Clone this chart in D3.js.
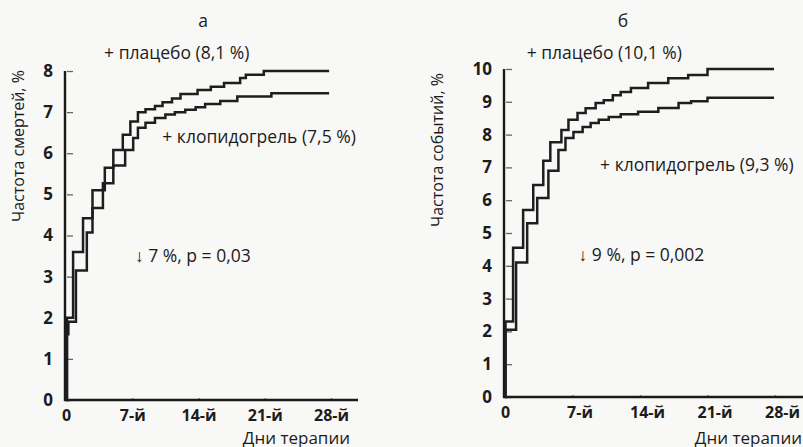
<!DOCTYPE html>
<html><head><meta charset="utf-8">
<script src="https://cdn.jsdelivr.net/npm/d3@7"></script>
<style>
html,body{margin:0;padding:0;background:#f8f8f7;}
svg{display:block;}
text{font-family:"Open Sans","Noto Sans",sans-serif;fill:#1c1c1c;}
</style></head>
<body>
<svg id="chart" width="803" height="447"></svg>
<script>
// ---- data ----
const xTickValues = [0, 7, 14, 21, 28];
const xTickLabels = ["0", "7-й", "14-й", "21-й", "28-й"];
const yTicksA = [0, 1, 2, 3, 4, 5, 6, 7, 8];
const yTicksB = [0, 1, 2, 3, 4, 5, 6, 7, 8, 9, 10];

// Panel а: mortality, %
const daysA_placebo = [0, 0.1, 0.75, 1.8, 2.8, 4.1, 5.0, 6.0, 6.8, 7.6, 8.4, 9.4, 10.2, 11.2, 12.1, 13.9, 15.3, 16.7, 18.4, 19.0, 20.9, 27.8];
const valsA_placebo = [0, 2.0, 3.6, 4.42, 5.1, 5.65, 6.08, 6.45, 6.77, 7.0, 7.07, 7.15, 7.24, 7.33, 7.44, 7.54, 7.62, 7.71, 7.83, 7.91, 8.0, 8.0];
const daysA_clopi = [0, 0.1, 0.25, 1.05, 2.2, 2.8, 3.9, 5.0, 6.25, 7.1, 7.6, 8.4, 9.4, 10.5, 11.5, 12.6, 13.7, 14.7, 16.3, 18.1, 21.7, 27.8];
const valsA_clopi = [0, 1.6, 1.9, 3.15, 4.07, 4.67, 5.27, 5.7, 6.08, 6.37, 6.62, 6.74, 6.86, 6.94, 7.0, 7.06, 7.12, 7.2, 7.27, 7.38, 7.46, 7.46];

// Panel б: event rate, %
const daysB_placebo = [0, 0.05, 0.84, 1.88, 2.93, 3.97, 4.7, 5.85, 6.58, 7.52, 8.36, 9.4, 10.24, 11.18, 12.0, 13.06, 14.84, 16.93, 19.0, 21.0, 27.9];
const valsB_placebo = [0, 2.3, 4.55, 5.7, 6.46, 7.2, 7.77, 8.14, 8.45, 8.66, 8.8, 8.96, 9.05, 9.2, 9.3, 9.42, 9.57, 9.72, 9.82, 10.0, 10.0];
const daysB_clopi = [0, 0.05, 1.15, 2.3, 3.34, 4.5, 5.54, 6.27, 7.1, 8.05, 8.88, 9.72, 10.76, 12.0, 13.8, 15.9, 18.0, 19.3, 21.0, 27.9];
const valsB_clopi = [0, 2.05, 4.1, 5.3, 6.07, 6.9, 7.53, 7.9, 8.08, 8.23, 8.35, 8.45, 8.54, 8.62, 8.7, 8.81, 8.96, 9.02, 9.12, 9.12];

const panels = [
  {
    title: "а", yTitle: "Частота смертей, %", yMax: 8, yTicks: yTicksA,
    series: [[daysA_placebo, valsA_placebo], [daysA_clopi, valsA_clopi]],
    notes: [
      {t: "+ плацебо (8,1 %)", day: 11.7, v: 8.0, dy: -18},
      {t: "+ клопидогрель (7,5 %)", day: 20.4, v: 6.4, dy: 0},
      {t: "↓ 7 %, p = 0,03", day: 13.4, v: 3.5, dy: 0}
    ],
    layout: {x0: 66, x28: 331, xEnd: 358, yTop: 71, yBot: 400, titleX: 203, yTitleX: 18, yTitleY: 146, labelX: 350, tickDx: 0}
  },
  {
    title: "б", yTitle: "Частота событий, %", yMax: 10, yTicks: yTicksB,
    series: [[daysB_placebo, valsB_placebo], [daysB_clopi, valsB_clopi]],
    notes: [
      {t: "+ плацебо (10,1 %)", day: 10.3, v: 10.0, dy: -16},
      {t: "+ клопидогрель (9,3 %)", day: 19.9, v: 7.07, dy: 0},
      {t: "↓ 9 %, p = 0,002", day: 14.15, v: 4.33, dy: 0}
    ],
    layout: {x0: 505, x28: 775, xEnd: 803, yTop: 69, yBot: 397, titleX: 623, yTitleX: 437, yTitleY: 150, labelX: 802, tickDx: 7}
  }
];

const FS = 17.5;
const svg = d3.select("#chart");

panels.forEach((p, i) => {
  const L = p.layout;
  const x = d3.scaleLinear().domain([0, 28]).range([L.x0, L.x28]);
  const y = d3.scaleLinear().domain([0, p.yMax]).range([L.yBot, L.yTop]);
  const g = svg.append("g");

  // y axis
  const yAxis = d3.axisLeft(y).tickValues(p.yTicks).tickSize(-8).tickPadding(12).tickFormat(d3.format("d"));
  const ya = g.append("g").attr("transform", `translate(${L.x0 - 1},0)`).call(yAxis);
  ya.select(".domain").remove();
  ya.selectAll(".tick line").attr("stroke", "#666").attr("stroke-width", 1.3).attr("x1", 2);
  ya.selectAll(".tick text").attr("font-size", 17).attr("font-weight", "bold").attr("fill", "#262626")
    .style("font-family", '"Open Sans",sans-serif');
  g.append("line").attr("x1", L.x0 - 1).attr("x2", L.x0 - 1).attr("y1", L.yTop).attr("y2", L.yBot + 1)
    .attr("stroke", "#1a1a1a").attr("stroke-width", 2.4);

  // x axis
  const xAxis = d3.axisBottom(x).tickValues(xTickValues).tickSize(-2).tickPadding(10)
    .tickFormat((d, k) => xTickLabels[k]);
  const xa = g.append("g").attr("transform", `translate(0,${L.yBot})`).call(xAxis);
  xa.select(".domain").remove();
  xa.selectAll(".tick line").attr("stroke", "#888").attr("stroke-width", 1.5);
  xa.selectAll(".tick text").attr("font-size", 16).attr("font-weight", "bold").attr("fill", "#262626")
    .attr("dx", d => d === 0 ? 0 : L.tickDx)
    .style("font-family", '"Open Sans",sans-serif');
  g.append("line").attr("x1", L.x0 - 2).attr("x2", L.xEnd).attr("y1", L.yBot).attr("y2", L.yBot)
    .attr("stroke", "#1a1a1a").attr("stroke-width", 2.4);

  // step curves
  const line = d3.line().x(d => x(d[0])).y(d => y(d[1])).curve(d3.curveStepAfter);
  p.series.forEach(([days, vals]) => {
    const pts = days.map((d, k) => [d, vals[k]]);
    g.append("path").datum(pts).attr("d", line).attr("fill", "none")
      .attr("stroke", "#1e1e1e").attr("stroke-width", 2.5).attr("stroke-linejoin", "miter");
  });

  // titles & notes
  g.append("text").attr("x", L.titleX).attr("y", 27).attr("text-anchor", "middle")
    .attr("font-size", FS).text(p.title);
  p.notes.forEach(n => {
    g.append("text").attr("x", x(n.day)).attr("y", y(n.v) + n.dy).attr("dy", "0.35em")
      .attr("text-anchor", "middle").attr("font-size", FS).text(n.t);
  });
  g.append("text").attr("transform", `translate(${L.yTitleX},${L.yTitleY}) rotate(-90)`)
    .attr("text-anchor", "middle").attr("dy", "0.35em").attr("font-size", 16).text(p.yTitle);
  g.append("text").attr("x", L.labelX).attr("y", 443.5).attr("text-anchor", "end")
    .attr("font-size", 17).text("Дни терапии");
});
</script>
</body></html>
